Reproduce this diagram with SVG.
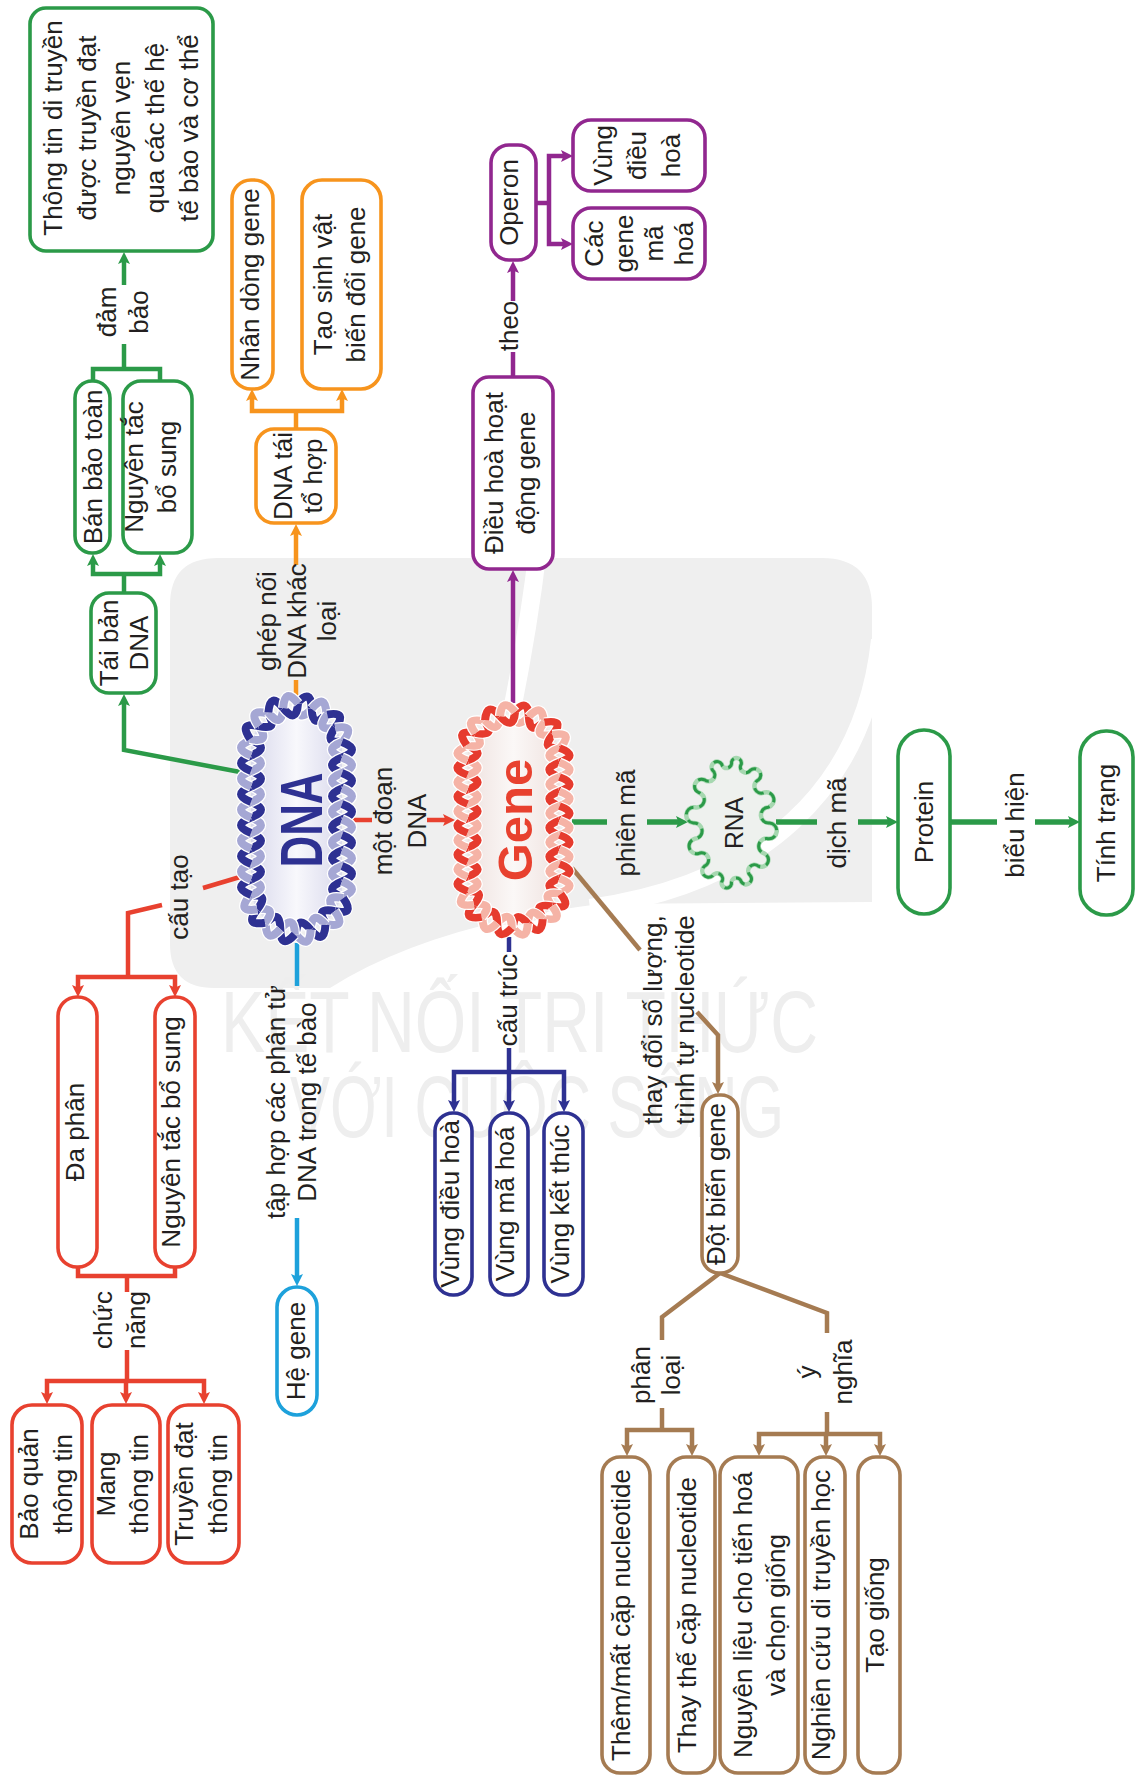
<svg xmlns="http://www.w3.org/2000/svg" width="1139" height="1781" viewBox="0 0 1139 1781">
<defs>
<style>
.t{font-family:"Liberation Sans",Arial,"Noto Sans",sans-serif;font-size:26px;fill:#231f20;text-anchor:middle}
.box{fill:#fff;stroke-width:3.6}
.ln{fill:none;stroke-width:4.5;stroke-linejoin:miter}
.thick{stroke-width:5.5}
.g{stroke:#2b9a48}.o{stroke:#f7941d}.p{stroke:#91278f}.r{stroke:#e8412f}
.c{stroke:#1da1db}.b{stroke:#2e3192}.br{stroke:#a57b52}
.wm{font-family:"Liberation Sans",Arial,sans-serif;font-size:88px;fill:#eeeeee;text-anchor:start}
</style>
<marker id="mg" viewBox="0 0 12 12" refX="6" refY="6" markerWidth="12" markerHeight="12" markerUnits="userSpaceOnUse" orient="auto-start-reverse"><path d="M0,0 L12,6 L0,12 L2.5,6 z" fill="#2b9a48"/></marker>
<marker id="mo" viewBox="0 0 12 12" refX="6" refY="6" markerWidth="12" markerHeight="12" markerUnits="userSpaceOnUse" orient="auto-start-reverse"><path d="M0,0 L12,6 L0,12 L2.5,6 z" fill="#f7941d"/></marker>
<marker id="mp" viewBox="0 0 12 12" refX="6" refY="6" markerWidth="12" markerHeight="12" markerUnits="userSpaceOnUse" orient="auto-start-reverse"><path d="M0,0 L12,6 L0,12 L2.5,6 z" fill="#91278f"/></marker>
<marker id="mr" viewBox="0 0 12 12" refX="6" refY="6" markerWidth="12" markerHeight="12" markerUnits="userSpaceOnUse" orient="auto-start-reverse"><path d="M0,0 L12,6 L0,12 L2.5,6 z" fill="#e8412f"/></marker>
<marker id="mc" viewBox="0 0 12 12" refX="6" refY="6" markerWidth="12" markerHeight="12" markerUnits="userSpaceOnUse" orient="auto-start-reverse"><path d="M0,0 L12,6 L0,12 L2.5,6 z" fill="#1da1db"/></marker>
<marker id="mb" viewBox="0 0 12 12" refX="6" refY="6" markerWidth="12" markerHeight="12" markerUnits="userSpaceOnUse" orient="auto-start-reverse"><path d="M0,0 L12,6 L0,12 L2.5,6 z" fill="#2e3192"/></marker>
<marker id="mbr" viewBox="0 0 12 12" refX="6" refY="6" markerWidth="12" markerHeight="12" markerUnits="userSpaceOnUse" orient="auto-start-reverse"><path d="M0,0 L12,6 L0,12 L2.5,6 z" fill="#a57b52"/></marker>
<linearGradient id="gD" x1="0" y1="0" x2="1" y2="0"><stop offset="0" stop-color="#d9d9ec"/><stop offset="0.5" stop-color="#f8f8fc"/><stop offset="1" stop-color="#d9d9ec"/></linearGradient>
<linearGradient id="gG" x1="0" y1="0" x2="1" y2="0"><stop offset="0" stop-color="#efe2df"/><stop offset="0.5" stop-color="#fbf8f7"/><stop offset="1" stop-color="#efe2df"/></linearGradient>
<!-- one turn of the double strand; light strand takes the inherited stroke, dark strand takes currentColor -->
<g id="tw" fill="none">
<path d="M0,-15.5 Q-20,-7.75 0,0" stroke="#fff" stroke-width="10.5"/>
<path d="M0,-15.5 Q-20,-7.75 0,0" stroke-width="8"/>
<path d="M0,-15.5 Q20,-7.75 0,0" stroke="#fff" stroke-width="10.5"/>
<path d="M0,-15.5 Q20,-7.75 0,0" stroke="currentColor" stroke-width="8"/>
<path d="M0,0 Q-20,7.75 0,15.5" stroke="#fff" stroke-width="10.5"/>
<path d="M0,0 Q-20,7.75 0,15.5" stroke="currentColor" stroke-width="8"/>
<path d="M0,0 Q20,7.75 0,15.5" stroke="#fff" stroke-width="10.5"/>
<path d="M0,0 Q20,7.75 0,15.5" stroke-width="8"/>
</g>
<!-- helix ring around a capsule, centred on 0,0 -->
<g id="ring">
<rect x="-45.5" y="-113" width="91" height="226" rx="45.5" stroke="none"/>
<use href="#tw" transform="translate(15.2,-110.4) rotate(-70.5)"/>
<use href="#tw" transform="translate(38.8,-91.2) rotate(-31.4)"/>
<use href="#tw" transform="translate(45.5,-61.5)"/>
<use href="#tw" transform="translate(45.5,-30.5)"/>
<use href="#tw" transform="translate(45.5,0.5)"/>
<use href="#tw" transform="translate(45.5,31.5)"/>
<use href="#tw" transform="translate(45.5,62.5)"/>
<use href="#tw" transform="translate(38.3,92.1) rotate(32.7)"/>
<use href="#tw" transform="translate(14.2,110.7) rotate(71.8)"/>
<use href="#tw" transform="translate(-16.2,110) rotate(110.8)"/>
<use href="#tw" transform="translate(-39.3,90.4) rotate(149.9)"/>
<use href="#tw" transform="translate(-45.5,60.5) rotate(180)"/>
<use href="#tw" transform="translate(-45.5,29.5) rotate(180)"/>
<use href="#tw" transform="translate(-45.5,-1.5) rotate(180)"/>
<use href="#tw" transform="translate(-45.5,-32.5) rotate(180)"/>
<use href="#tw" transform="translate(-45.5,-63.5) rotate(180)"/>
<use href="#tw" transform="translate(-37.7,-92.9) rotate(214)"/>
<use href="#tw" transform="translate(-13.3,-111) rotate(253)"/>
</g>
</defs>

<rect width="1139" height="1781" fill="#fff"/>

<!-- faint background emblem -->
<g id="emblem">
<path d="M170,605 Q170,558 218,558 L822,558 Q872,558 872,608 L872,902 L600,904 Q430,925 330,988 L214,988 Q170,988 170,944 Z" fill="#efefef"/>
<path d="M538,548 C532,600 522,660 512,710" fill="none" stroke="#fff" stroke-width="18"/>
<path d="M880,640 C864,790 760,884 590,908" fill="none" stroke="#fff" stroke-width="18"/>
<text class="wm" x="221" y="1052" textLength="597" lengthAdjust="spacingAndGlyphs">KẾT NỐI TRI THỨC</text>
<text class="wm" x="290" y="1137" textLength="494" lengthAdjust="spacingAndGlyphs">VỚI CUỘC SỐNG</text>
</g>

<g id="connectors">
<!-- green: replication branch -->
<path class="ln g" d="M240,772 L124,750 V700" marker-end="url(#mg)"/>
<path class="ln g" d="M124,593 V574"/>
<path class="ln g" d="M93,560 V574 H160 V560" marker-start="url(#mg)" marker-end="url(#mg)"/>
<path class="ln g" d="M93,381 V369 H160 V381"/>
<path class="ln g" d="M124,369 V344"/>
<path class="ln g" d="M124,285 V258" marker-end="url(#mg)"/>
<!-- green: expression chain -->
<path class="ln g thick" d="M572,822 H607"/>
<path class="ln g thick" d="M647,822 H682" marker-end="url(#mg)"/>
<path class="ln g thick" d="M776,822 H817"/>
<path class="ln g thick" d="M858,822 H892" marker-end="url(#mg)"/>
<path class="ln g thick" d="M950,822 H997"/>
<path class="ln g thick" d="M1035,822 H1074" marker-end="url(#mg)"/>
<!-- orange -->
<path class="ln o" d="M296,697 V680"/>
<path class="ln o" d="M296,565 V530" marker-end="url(#mo)"/>
<path class="ln o" d="M296,429 V411"/>
<path class="ln o" d="M252,395 V411 H342 V395" marker-start="url(#mo)" marker-end="url(#mo)"/>
<!-- purple -->
<path class="ln p" d="M513,703 V576" marker-end="url(#mp)"/>
<path class="ln p" d="M513,377 V352"/>
<path class="ln p" d="M513,301 V267" marker-end="url(#mp)"/>
<path class="ln p" d="M536,203 H549"/>
<path class="ln p" d="M567,156 H549 V244 H567" marker-start="url(#mp)" marker-end="url(#mp)"/>
<!-- cyan -->
<path class="ln c" d="M297,943 V986"/>
<path class="ln c" d="M297,1218 V1280" marker-end="url(#mc)"/>
<!-- blue -->
<path class="ln b" d="M509,937 V952"/>
<path class="ln b" d="M509,1048 V1072"/>
<path class="ln b" d="M454,1106 V1072 H564 V1106" marker-start="url(#mb)" marker-end="url(#mb)"/>
<path class="ln b" d="M509,1072 V1106" marker-end="url(#mb)"/>
<!-- red -->
<path class="ln r" d="M353,820 H372"/>
<path class="ln r" d="M427,820 H449" marker-end="url(#mr)"/>
<path class="ln r" d="M240,877 L203,888"/>
<path class="ln r" d="M162,905 L128,913 V977"/>
<path class="ln r" d="M78,991 V977 H175 V991" marker-start="url(#mr)" marker-end="url(#mr)"/>
<path class="ln r" d="M78,1267 V1276 H175 V1267"/>
<path class="ln r" d="M127,1276 V1292"/>
<path class="ln r" d="M127,1350 V1381"/>
<path class="ln r" d="M47,1398 V1381 H204 V1398" marker-start="url(#mr)" marker-end="url(#mr)"/>
<path class="ln r" d="M126,1381 V1398" marker-end="url(#mr)"/>
<!-- brown -->
<path class="ln br" d="M572,868 L640,950"/>
<path class="ln br" d="M697,1012 L718,1035 V1088" marker-end="url(#mbr)"/>
<path class="ln br" d="M720,1273 L662,1317 V1340"/>
<path class="ln br" d="M662,1408 V1430"/>
<path class="ln br" d="M627,1450 V1430 H692 V1450" marker-start="url(#mbr)" marker-end="url(#mbr)"/>
<path class="ln br" d="M720,1273 L827,1313 V1333"/>
<path class="ln br" d="M827,1412 V1434"/>
<path class="ln br" d="M759,1450 V1434 H880 V1450" marker-start="url(#mbr)" marker-end="url(#mbr)"/>
<path class="ln br" d="M826,1434 V1450" marker-end="url(#mbr)"/>
</g>

<g id="labels">
<text class="t" transform="translate(116,312) rotate(-90)"><tspan x="0" y="0">đảm</tspan><tspan x="0" y="32">bảo</tspan></text>
<text class="t" transform="translate(276,621) rotate(-90)"><tspan x="0" y="0">ghép nối</tspan><tspan x="0" y="30">DNA khác</tspan><tspan x="0" y="60">loại</tspan></text>
<text class="t" transform="translate(518,326) rotate(-90)">theo</text>
<text class="t" transform="translate(392,821) rotate(-90)"><tspan x="0" y="0">một đoạn</tspan><tspan x="0" y="34">DNA</tspan></text>
<text class="t" transform="translate(188,897) rotate(-90)">cấu tạo</text>
<text class="t" transform="translate(285,1102) rotate(-90)"><tspan x="0" y="0">tập hợp các phân tử</tspan><tspan x="0" y="31">DNA trong tế bào</tspan></text>
<text class="t" transform="translate(517,1000) rotate(-90)">cấu trúc</text>
<text class="t" transform="translate(635,823) rotate(-90)">phiên mã</text>
<text class="t" transform="translate(846,823) rotate(-90)">dịch mã</text>
<text class="t" transform="translate(1024,825) rotate(-90)">biểu hiện</text>
<text class="t" transform="translate(662,1020) rotate(-90)"><tspan x="0" y="0">thay đổi số lượng,</tspan><tspan x="0" y="32">trình tự nucleotide</tspan></text>
<text class="t" transform="translate(650,1375) rotate(-90)"><tspan x="0" y="0">phân</tspan><tspan x="0" y="30">loại</tspan></text>
<text class="t" transform="translate(816,1372) rotate(-90)"><tspan x="0" y="0">ý</tspan><tspan x="0" y="36">nghĩa</tspan></text>
<text class="t" transform="translate(112,1320) rotate(-90)"><tspan x="0" y="0">chức</tspan><tspan x="0" y="33">năng</tspan></text>
</g>

<g id="dna">
<use href="#ring" transform="translate(296.5,819)" fill="url(#gD)" stroke="#a5a7d4" color="#2e3192"/>
<text transform="translate(322,820) rotate(-90)" x="0" y="0" font-family="Liberation Sans,Arial,sans-serif" font-weight="bold" font-size="60" fill="#2e3192" text-anchor="middle" textLength="95" lengthAdjust="spacingAndGlyphs">DNA</text>
</g>
<g id="gene">
<use href="#ring" transform="translate(513.5,820) scale(1.01,0.936)" fill="url(#gG)" stroke="#f5b3a6" color="#e63b2e"/>
<text transform="translate(532,820) rotate(-90)" x="0" y="0" font-family="Liberation Sans,Arial,sans-serif" font-weight="bold" font-size="49" fill="#e8412f" text-anchor="middle">Gene</text>
</g>
<g id="rna">
<path d="M769.5,823 A1,1 0 0 1 768.2,838.8 A1,1 0 0 0 764.4,853.5 A1,1 0 0 1 758.4,866.1 A1,1 0 0 0 750.5,875.8 A1,1 0 0 1 741.3,881.9 A1,1 0 0 0 731.5,884 A1,1 0 0 1 721.7,881.9 A1,1 0 0 0 712.5,875.8 A1,1 0 0 1 704.6,866.1 A1,1 0 0 0 698.6,853.5 A1,1 0 0 1 694.8,838.8 A1,1 0 0 0 693.5,823 A1,1 0 0 1 694.8,807.2 A1,1 0 0 0 698.6,792.5 A1,1 0 0 1 704.6,779.9 A1,1 0 0 0 712.5,770.2 A1,1 0 0 1 721.7,764.1 A1,1 0 0 0 731.5,762 A1,1 0 0 1 741.3,764.1 A1,1 0 0 0 750.5,770.2 A1,1 0 0 1 758.4,779.9 A1,1 0 0 0 764.4,792.5 A1,1 0 0 1 768.2,807.2 A1,1 0 0 0 769.5,823 Z" fill="#eef1ee" stroke="#a6d8b0" stroke-width="4.5"/>
<path d="M769.5,823 A1,1 0 0 1 768.2,838.8 A1,1 0 0 0 764.4,853.5 A1,1 0 0 1 758.4,866.1 A1,1 0 0 0 750.5,875.8 A1,1 0 0 1 741.3,881.9 A1,1 0 0 0 731.5,884 A1,1 0 0 1 721.7,881.9 A1,1 0 0 0 712.5,875.8 A1,1 0 0 1 704.6,866.1 A1,1 0 0 0 698.6,853.5 A1,1 0 0 1 694.8,838.8 A1,1 0 0 0 693.5,823 A1,1 0 0 1 694.8,807.2 A1,1 0 0 0 698.6,792.5 A1,1 0 0 1 704.6,779.9 A1,1 0 0 0 712.5,770.2 A1,1 0 0 1 721.7,764.1 A1,1 0 0 0 731.5,762 A1,1 0 0 1 741.3,764.1 A1,1 0 0 0 750.5,770.2 A1,1 0 0 1 758.4,779.9 A1,1 0 0 0 764.4,792.5 A1,1 0 0 1 768.2,807.2 A1,1 0 0 0 769.5,823 Z" fill="none" stroke="#2b9a48" stroke-width="3" stroke-dasharray="11 6"/>
<text class="t" transform="translate(743,823) rotate(-90)" font-size="30" textLength="52" lengthAdjust="spacingAndGlyphs">RNA</text>
</g>

<!-- green nodes -->
<g id="n-thongtin"><rect class="box g" x="30" y="8" width="183" height="243" rx="16"/>
<text class="t" transform="translate(62,128) rotate(-90)"><tspan x="0" y="0">Thông tin di truyền</tspan><tspan x="0" y="34">được truyền đạt</tspan><tspan x="0" y="68">nguyên vẹn</tspan><tspan x="0" y="102">qua các thế hệ</tspan><tspan x="0" y="136">tế bào và cơ thể</tspan></text></g>
<g id="n-banbaotoan"><rect class="box g" x="75" y="381" width="35" height="172" rx="17"/>
<text class="t" transform="translate(101.5,467) rotate(-90)">Bán bảo toàn</text></g>
<g id="n-nguyentac1"><rect class="box g" x="123" y="381" width="69" height="172" rx="18"/>
<text class="t" transform="translate(143,467) rotate(-90)"><tspan x="0" y="0">Nguyên tắc</tspan><tspan x="0" y="33">bổ sung</tspan></text></g>
<g id="n-taiban"><rect class="box g" x="91" y="593" width="65" height="100" rx="18"/>
<text class="t" transform="translate(117.5,643) rotate(-90)"><tspan x="0" y="0">Tái bản</tspan><tspan x="0" y="30">DNA</tspan></text></g>
<g id="n-protein"><rect class="box g" x="898" y="730" width="52" height="184" rx="26"/>
<text class="t" transform="translate(933,822) rotate(-90)">Protein</text></g>
<g id="n-tinhtrang"><rect class="box g" x="1080" y="731" width="53" height="184" rx="26"/>
<text class="t" transform="translate(1115,823) rotate(-90)">Tính trạng</text></g>

<!-- orange nodes -->
<g id="n-nhandong"><rect class="box o" x="232" y="180" width="41" height="209" rx="19"/>
<text class="t" transform="translate(259,284.5) rotate(-90)">Nhân dòng gene</text></g>
<g id="n-taosinhvat"><rect class="box o" x="302" y="180" width="79" height="209" rx="20"/>
<text class="t" transform="translate(332,284.5) rotate(-90)"><tspan x="0" y="0">Tạo sinh vật</tspan><tspan x="0" y="33">biến đổi gene</tspan></text></g>
<g id="n-dnataitohop"><rect class="box o" x="256" y="429" width="80" height="94" rx="18"/>
<text class="t" transform="translate(292,476) rotate(-90)"><tspan x="0" y="0">DNA tái</tspan><tspan x="0" y="30">tổ hợp</tspan></text></g>

<!-- purple nodes -->
<g id="n-dieuhoa"><rect class="box p" x="473" y="377" width="80" height="192" rx="16"/>
<text class="t" transform="translate(503,473) rotate(-90)"><tspan x="0" y="0">Điều hoà hoạt</tspan><tspan x="0" y="32">động gene</tspan></text></g>
<g id="n-operon"><rect class="box p" x="491" y="145" width="45" height="115" rx="18"/>
<text class="t" transform="translate(518,202.5) rotate(-90)">Operon</text></g>
<g id="n-vungdieuhoa1"><rect class="box p" x="573" y="120" width="132" height="71" rx="18"/>
<text class="t" transform="translate(612,155.5) rotate(-90)"><tspan x="0" y="0">Vùng</tspan><tspan x="0" y="34">điều</tspan><tspan x="0" y="68">hoà</tspan></text></g>
<g id="n-cacgene"><rect class="box p" x="573" y="208" width="132" height="71" rx="18"/>
<text class="t" transform="translate(603,243.5) rotate(-90)"><tspan x="0" y="0">Các</tspan><tspan x="0" y="30">gene</tspan><tspan x="0" y="60">mã</tspan><tspan x="0" y="90">hoá</tspan></text></g>

<!-- cyan node -->
<g id="n-hegene"><rect class="box c" x="277" y="1287" width="40" height="128" rx="20"/>
<text class="t" transform="translate(305,1351) rotate(-90)">Hệ gene</text></g>

<!-- red nodes -->
<g id="n-daphan"><rect class="box r" x="58" y="997" width="39" height="270" rx="19"/>
<text class="t" transform="translate(84,1132) rotate(-90)">Đa phân</text></g>
<g id="n-nguyentac2"><rect class="box r" x="155" y="997" width="40" height="270" rx="19"/>
<text class="t" transform="translate(180,1132) rotate(-90)">Nguyên tắc bổ sung</text></g>
<g id="n-baoquan"><rect class="box r" x="12" y="1405" width="70" height="158" rx="20"/>
<text class="t" transform="translate(38,1484) rotate(-90)"><tspan x="0" y="0">Bảo quản</tspan><tspan x="0" y="34">thông tin</tspan></text></g>
<g id="n-mang"><rect class="box r" x="92" y="1405" width="68" height="158" rx="20"/>
<text class="t" transform="translate(115,1484) rotate(-90)"><tspan x="0" y="0">Mang</tspan><tspan x="0" y="33">thông tin</tspan></text></g>
<g id="n-truyendat"><rect class="box r" x="168" y="1405" width="71" height="158" rx="20"/>
<text class="t" transform="translate(193,1484) rotate(-90)"><tspan x="0" y="0">Truyền đạt</tspan><tspan x="0" y="34">thông tin</tspan></text></g>

<!-- blue nodes -->
<g id="n-vungdieuhoa2"><rect class="box b" x="435" y="1113" width="37" height="182" rx="18"/>
<text class="t" transform="translate(459,1204) rotate(-90)">Vùng điều hoà</text></g>
<g id="n-vungmahoa"><rect class="box b" x="490" y="1113" width="38" height="182" rx="18"/>
<text class="t" transform="translate(514,1204) rotate(-90)">Vùng mã hoá</text></g>
<g id="n-vungketthuc"><rect class="box b" x="544" y="1113" width="39" height="182" rx="18"/>
<text class="t" transform="translate(569,1204) rotate(-90)">Vùng kết thúc</text></g>

<!-- brown nodes -->
<g id="n-dotbien"><rect class="box br" x="702" y="1095" width="36" height="178" rx="17"/>
<text class="t" transform="translate(725,1184) rotate(-90)">Đột biến gene</text></g>
<g id="n-themmat"><rect class="box br" x="602" y="1457" width="48" height="316" rx="18"/>
<text class="t" transform="translate(630,1615) rotate(-90)">Thêm/mất cặp nucleotide</text></g>
<g id="n-thaythe"><rect class="box br" x="668" y="1457" width="47" height="316" rx="18"/>
<text class="t" transform="translate(696,1615) rotate(-90)">Thay thế cặp nucleotide</text></g>
<g id="n-nguyenlieu"><rect class="box br" x="720" y="1457" width="78" height="316" rx="18"/>
<text class="t" transform="translate(752,1615) rotate(-90)"><tspan x="0" y="0">Nguyên liệu cho tiến hoá</tspan><tspan x="0" y="33">và chọn giống</tspan></text></g>
<g id="n-nghiencuu"><rect class="box br" x="805" y="1457" width="40" height="316" rx="18"/>
<text class="t" transform="translate(830,1615) rotate(-90)">Nghiên cứu di truyền học</text></g>
<g id="n-taogiong"><rect class="box br" x="858" y="1457" width="42" height="316" rx="18"/>
<text class="t" transform="translate(884,1615) rotate(-90)">Tạo giống</text></g>
</svg>
